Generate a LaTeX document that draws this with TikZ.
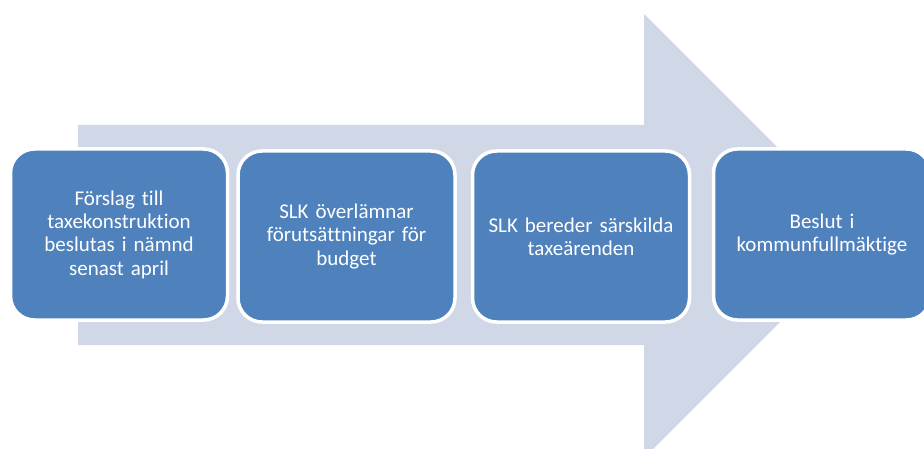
\documentclass[tikz,border=0pt]{standalone}
\usepackage{fontspec}
\setmainfont{Carlito}[Ligatures=NoCommon]
\definecolor{boxblue}{HTML}{4F81BD}
\definecolor{arrowgrey}{HTML}{D0D8E8}
\begin{document}
\begin{tikzpicture}[x=1pt,y=-1pt,
  stepbox/.style={draw=white, line width=3.5pt, fill=boxblue, rounded corners=24pt,
    minimum width=217pt, minimum height=171pt, inner sep=0pt,
    text=white, align=center, text width=205pt,
    font=\fontsize{21}{23.3}\selectfont}]
\useasboundingbox (0,0) rectangle (924,449);
\fill[white] (0,0) rectangle (924,449);
\begin{scope}
\clip (0,0) rectangle (924,449);
\fill[arrowgrey] (78,125) -- (644,125) -- (644,14) -- (866,236) -- (644,458) -- (644,345) -- (78,345) -- cycle;
\node[stepbox] (b1) at (119,234.5) {Förslag till\\taxekonstruktion\\beslutas i nämnd\\senast april};
\node[stepbox] (b2) at (346.5,236.5) {SLK överlämnar\\förutsättningar för\\budget};
\node[stepbox] (b3) at (581,236.5) {SLK bereder särskilda\\taxeärenden};
\node[stepbox] (b4) at (822,234.5) {Beslut i\\kommunfullmäktige};
\end{scope}
\end{tikzpicture}
\end{document}
